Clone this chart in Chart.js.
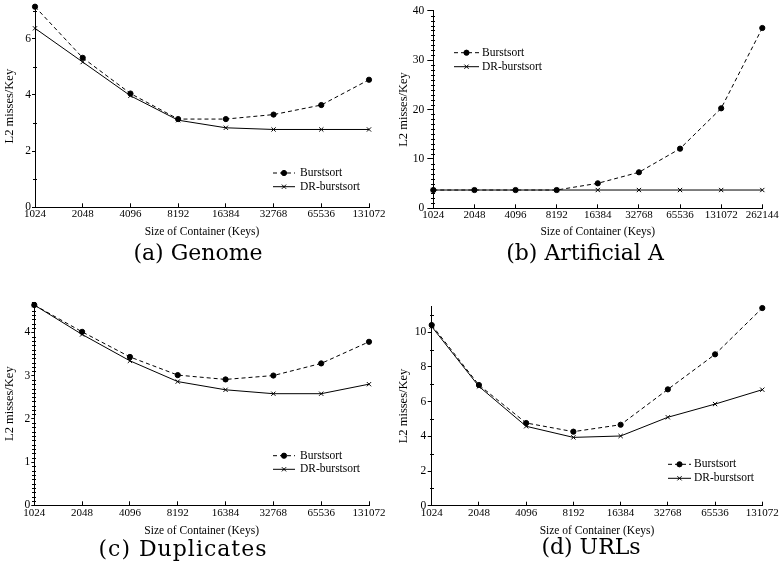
<!DOCTYPE html>
<html>
<head>
<meta charset="utf-8">
<script src="https://cdn.jsdelivr.net/npm/chart.js@4.4.0/dist/chart.umd.min.js"></script>
<style>
  body { margin: 0; background: #fff; width: 779px; height: 572px; position: relative; overflow: hidden; }
  .panel { position: absolute; }
  .caption { position: absolute; font-family: "DejaVu Serif", serif; font-size: 22px; color: #000; transform: translate(-50%, -50%); white-space: nowrap; }
</style>
</head>
<body>
<div class="panel" style="left:0px;top:0px"><canvas id="chartA" width="389" height="240"></canvas></div>
<div class="panel" style="left:389px;top:0px"><canvas id="chartB" width="390" height="240"></canvas></div>
<div class="panel" style="left:0px;top:286px"><canvas id="chartC" width="389" height="255"></canvas></div>
<div class="panel" style="left:389px;top:286px"><canvas id="chartD" width="390" height="255"></canvas></div>
<div class="caption" style="left:198px;top:252px">(a) Genome</div>
<div class="caption" style="left:585px;top:252px">(b) Artificial A</div>
<div class="caption" style="left:183px;top:548px;letter-spacing:1px">(c) Duplicates</div>
<div class="caption" style="left:591px;top:546px">(d) URLs</div>
<script>
// container sizes (keys)
const sizes = ["1024", "2048", "4096", "8192", "16384", "32768", "65536", "131072"];
const sizesArtificial = ["1024", "2048", "4096", "8192", "16384", "32768", "65536", "131072", "262144"];

// L2 misses per key
const genomeBurst = [7.14, 5.32, 4.05, 3.14, 3.14, 3.30, 3.64, 4.54];
const genomeDR = [6.37, 5.17, 3.97, 3.10, 2.83, 2.77, 2.77, 2.77];
const artificialBurst = [3.7, 3.7, 3.7, 3.7, 5.06, 7.29, 12.07, 20.24, 36.5];
const artificialDR = [3.7, 3.7, 3.7, 3.7, 3.7, 3.7, 3.7, 3.7, 3.7];
const duplicatesBurst = [4.63, 4.01, 3.43, 3.01, 2.91, 3.00, 3.28, 3.78];
const duplicatesDR = [4.63, 3.95, 3.34, 2.86, 2.67, 2.58, 2.58, 2.80];
const urlsBurst = [10.42, 6.96, 4.77, 4.27, 4.67, 6.71, 8.73, 11.4];
const urlsDR = [10.33, 6.88, 4.58, 3.94, 4.02, 5.10, 5.86, 6.69];

const seriesNames = ["Burstsort", "DR-burstsort"];

const SERIF = '"Liberation Serif", "Times New Roman", serif';

// small minor ticks on the y axis
const minorTicks = {
  id: 'minorTicks',
  afterDraw(chart, args, opts) {
    const s = chart.scales.y;
    const ctx = chart.ctx;
    const x = Math.round(s.right) + 0.5;
    ctx.save();
    ctx.strokeStyle = '#000';
    ctx.lineWidth = 1;
    ctx.beginPath();
    const n = Math.round(s.max / opts.step);
    for (let i = 1; i <= n; i++) {
      const v = i * opts.step;
      if (Math.abs(v / opts.major - Math.round(v / opts.major)) < 1e-6) continue;
      const y = Math.round(s.getPixelForValue(v)) + 0.5;
      ctx.moveTo(x - opts.len, y);
      ctx.lineTo(x + 1.5, y);
    }
    ctx.stroke();
    ctx.restore();
  }
};

// legend drawn at a fixed spot inside the plot
const boxLegend = {
  id: 'boxLegend',
  afterDraw(chart, args, opts) {
    const ctx = chart.ctx;
    chart.data.datasets.forEach((ds, i) => {
      const y = opts.y + i * opts.gap;
      ctx.save();
      ctx.strokeStyle = ds.borderColor;
      ctx.lineWidth = ds.borderWidth;
      ctx.setLineDash(ds.borderDash || []);
      ctx.beginPath();
      ctx.moveTo(opts.x, y);
      ctx.lineTo(opts.x + opts.len, y);
      ctx.stroke();
      ctx.setLineDash([]);
      ctx.fillStyle = ds.pointBackgroundColor;
      ctx.strokeStyle = ds.pointBorderColor;
      Chart.helpers.drawPoint(ctx, { pointStyle: ds.pointStyle, radius: ds.pointRadius, borderWidth: 1, rotation: 0 }, opts.x + opts.len / 2, y);
      ctx.fillStyle = '#000';
      ctx.font = '11.5px ' + SERIF;
      ctx.textBaseline = 'middle';
      ctx.textAlign = 'left';
      ctx.fillText(ds.label, opts.x + opts.len + opts.textGap, y);
      ctx.restore();
    });
  }
};

function makeChart(id, labels, burst, dr, p) {
  new Chart(document.getElementById(id), {
    type: 'line',
    data: {
      labels: labels,
      datasets: [
        {
          label: seriesNames[0], data: burst,
          borderColor: '#000', borderWidth: 1, borderDash: [4, 3],
          pointStyle: 'circle', pointRadius: 2.6, pointBackgroundColor: '#000', pointBorderColor: '#000',
          tension: 0, clip: false
        },
        {
          label: seriesNames[1], data: dr,
          borderColor: '#000', borderWidth: 1, borderDash: [],
          pointStyle: 'crossRot', pointRadius: 3, pointBackgroundColor: '#000', pointBorderColor: '#000', pointBorderWidth: 1,
          tension: 0, clip: false
        }
      ]
    },
    options: {
      responsive: false,
      animation: false,
      events: [],
      layout: { padding: { left: 0, top: p.top, right: p.right, bottom: 0 } },
      plugins: {
        legend: { display: false },
        tooltip: { enabled: false },
        minorTicks: { step: p.minor, major: p.step, len: 2.5 },
        boxLegend: p.legend
      },
      scales: {
        x: {
          type: 'category',
          offset: false,
          grid: { display: true, drawOnChartArea: false, drawTicks: true, tickLength: -4, color: '#000', offset: false },
          border: { display: true, color: '#000', width: 1 },
          ticks: { autoSkip: false, maxRotation: 0, minRotation: 0, padding: 4 + p.xLabelShift, color: '#000', font: { family: SERIF, size: 11, lineHeight: 1.2 } },
          title: { display: true, text: 'Size of Container (Keys)', color: '#000', padding: { top: 0, bottom: p.xTitlePad }, font: { family: SERIF, size: 11.5, lineHeight: 1.2 } },
          afterFit(s) { s.height = p.xHeight; s.paddingLeft = 0; s.paddingRight = 0; }
        },
        y: {
          type: 'linear',
          min: 0, max: p.yMax,
          grid: { display: true, drawOnChartArea: false, drawTicks: true, tickLength: p.yTickLen, color: '#000' },
          border: { display: true, color: '#000', width: 1 },
          ticks: { stepSize: p.step, includeBounds: false, padding: p.yTickPad, color: '#000', font: { family: SERIF, size: 11.5, lineHeight: 1.2 } },
          title: { display: true, text: 'L2 misses/Key', color: '#000', padding: { top: p.yTitlePad, bottom: 0 }, font: { family: SERIF, size: 12.5, lineHeight: 1.2 } },
          afterFit(s) { s.width = p.yWidth; s.paddingTop = 0; s.paddingBottom = 0; }
        }
      }
    },
    plugins: [minorTicks, boxLegend]
  });
}

makeChart('chartA', sizes, genomeBurst, genomeDR, {
  top: 5, right: 20, yWidth: 35, xHeight: 32.7, yMax: 7.2, step: 2, minor: 1,
  yTickLen: 3, yTickPad: 1, yTitlePad: 2.5, xTitlePad: 1.1, xLabelShift: 0,
  legend: { x: 273, y: 173, len: 22, gap: 13.7, textGap: 5 }
});
makeChart('chartB', sizesArtificial, artificialBurst, artificialDR, {
  top: 10.7, right: 16.7, yWidth: 44.3, xHeight: 31.7, yMax: 40, step: 10, minor: 1,
  yTickLen: 6, yTickPad: 3, yTitlePad: 7.5, xTitlePad: 1.4, xLabelShift: 0.5,
  legend: { x: 65, y: 52.7, len: 25, gap: 14, textGap: 3 }
});
makeChart('chartC', sizes, duplicatesBurst, duplicatesDR, {
  top: 16, right: 20, yWidth: 34.3, xHeight: 35.7, yMax: 4.7, step: 1, minor: 0.1,
  yTickLen: 3, yTickPad: 1, yTitlePad: 2.5, xTitlePad: 3.1, xLabelShift: 1,
  legend: { x: 273, y: 169.7, len: 22, gap: 13.6, textGap: 5 }
});
makeChart('chartD', sizes, urlsBurst, urlsDR, {
  top: 20.3, right: 16.7, yWidth: 42.7, xHeight: 35.3, yMax: 11.5, step: 2, minor: 1,
  yTickLen: 4, yTickPad: 1.5, yTitlePad: 7.5, xTitlePad: 3.1, xLabelShift: 1,
  legend: { x: 279, y: 178.3, len: 23, gap: 14, textGap: 3 }
});
</script>
</body>
</html>
